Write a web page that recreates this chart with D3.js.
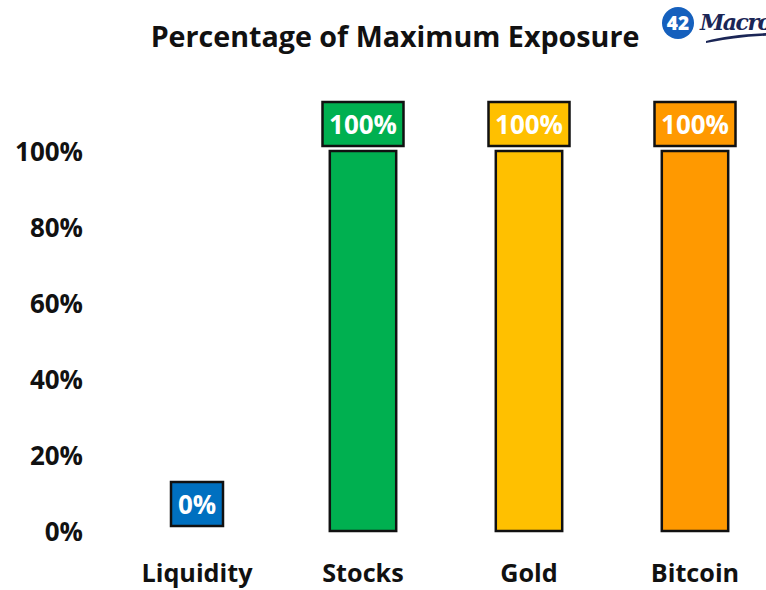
<!DOCTYPE html>
<html>
<head>
<meta charset="utf-8">
<script src="https://cdn.jsdelivr.net/npm/d3@7"></script>
<style>
  html, body { margin: 0; padding: 0; background: #fff; }
  svg { display: block; font-family: "Open Sans", Lato, sans-serif; }
</style>
</head>
<body>
<svg id="chart" width="766" height="590"></svg>
<script>
// Asset classes and their share of maximum exposure (%)
const categories = ["Liquidity", "Stocks", "Gold", "Bitcoin"];
const exposure = [0, 100, 100, 100];
const barColors = ["#0070C0", "#00B050", "#FFC000", "#FF9900"];
const tickValues = [0, 20, 40, 60, 80, 100];
const titleText = "Percentage of Maximum Exposure";

const FONT = "'Open Sans', Lato, sans-serif";
const svg = d3.select("#chart");

// Scale a text selection's font size so a sample node reaches the wanted width
function fitWidth(sel, sampleNode, width) {
  const base = 20;
  sel.attr("font-size", base);
  const w = sampleNode.getComputedTextLength();
  sel.attr("font-size", base * width / w);
}

const x = d3.scaleBand()
  .domain(categories)
  .range([114, 778])
  .paddingInner(0.6)
  .paddingOuter(0.3);

const y = d3.scaleLinear()
  .domain([0, 100])
  .range([531, 151]);

// Title
const title = svg.append("text")
  .attr("x", 395)
  .attr("y", 47)
  .attr("text-anchor", "middle")
  .attr("font-weight", 700)
  .attr("fill", "#111")
  .text(titleText);
fitWidth(title, title.node(), 489);

// Logo: blue badge with "42" and script wordmark
const logo = svg.append("g");
logo.append("circle").attr("cx", 678).attr("cy", 23).attr("r", 16).attr("fill", "#1560BD");
logo.append("text").attr("x", 678).attr("y", 30).attr("text-anchor", "middle")
  .attr("font-family", FONT)
  .attr("font-size", 19).attr("font-weight", 800).attr("fill", "#fff").text("42");
logo.append("text").attr("x", 700).attr("y", 30)
  .attr("font-family", "'DejaVu Serif', serif").attr("font-style", "italic")
  .attr("font-weight", 700).attr("font-size", 22).attr("letter-spacing", -1.5)
  .attr("fill", "#1B2656").text("Macro");
logo.append("path")
  .attr("d", "M706,41 Q730,34 770,33 L770,35.5 Q735,37 706,43 Z")
  .attr("fill", "#1B2656");

// Y axis: labels only, no line or ticks
const yAxis = d3.axisLeft(y)
  .tickValues(tickValues)
  .tickFormat(d => d + "%")
  .tickSize(0)
  .tickPadding(0);
const yg = svg.append("g").attr("transform", "translate(83,0)").call(yAxis);
yg.select(".domain").remove();
const yText = yg.selectAll("text")
  .attr("font-family", FONT)
  .attr("font-weight", 700)
  .attr("fill", "#111")
  .attr("dy", "0.36em");
fitWidth(yText, yText.filter(d => d === 100).node(), 68);

// X axis: category labels only
const xAxis = d3.axisBottom(x).tickSize(0).tickPadding(0);
const xg = svg.append("g").attr("transform", "translate(0,582)").call(xAxis);
xg.select(".domain").remove();
const xText = xg.selectAll("text")
  .attr("font-family", FONT)
  .attr("font-weight", 700)
  .attr("fill", "#111")
  .attr("dy", 0);
fitWidth(xText, xText.filter(d => d === "Liquidity").node(), 111);

const data = categories.map((c, i) => ({ cat: c, value: exposure[i], color: barColors[i] }));

// Bars
svg.append("g").selectAll("rect")
  .data(data)
  .join("rect")
  .attr("x", d => x(d.cat))
  .attr("y", d => y(d.value))
  .attr("width", x.bandwidth())
  .attr("height", d => y(0) - y(d.value))
  .attr("fill", d => d.color)
  .attr("stroke", "#111")
  .attr("stroke-width", 2.5);

// Value callouts above each bar
const boxW = 81, boxH = 44, gap = 5;
const labels = svg.append("g").selectAll("g")
  .data(data)
  .join("g")
  .attr("transform", d => {
    const cx = x(d.cat) + x.bandwidth() / 2;
    const top = y(d.value) - gap - boxH;
    return `translate(${cx},${top})`;
  });
labels.append("rect")
  .attr("x", d => d.value === 0 ? -26 : -boxW / 2)
  .attr("y", 0)
  .attr("width", d => d.value === 0 ? 52 : boxW)
  .attr("height", boxH)
  .attr("fill", d => d.color)
  .attr("stroke", "#111")
  .attr("stroke-width", 2.5);
const vText = labels.append("text")
  .attr("x", 0)
  .attr("y", 32)
  .attr("text-anchor", "middle")
  .attr("font-family", FONT)
  .attr("font-weight", 700)
  .attr("fill", "#fff")
  .text(d => d.value + "%");
fitWidth(vText, vText.filter(d => d.value === 100).node(), 68);
</script>
</body>
</html>
